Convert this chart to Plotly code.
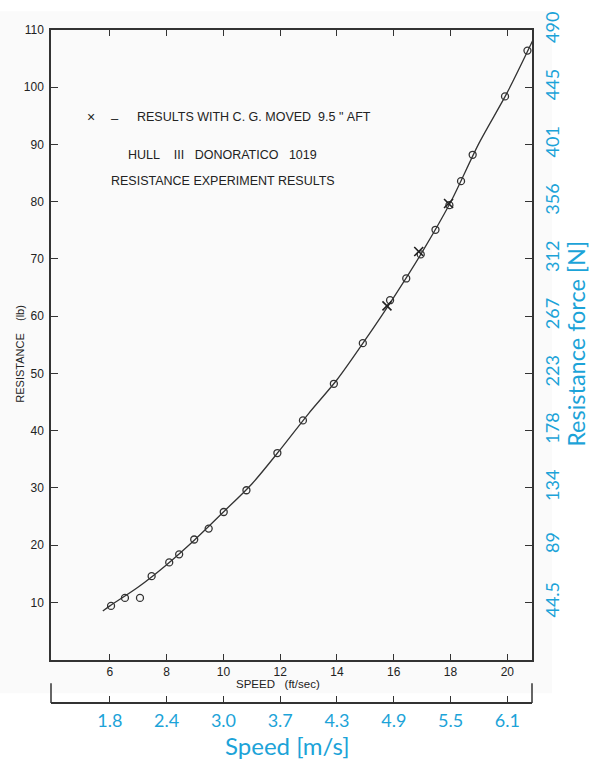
import plotly.graph_objects as go

# Towing-tank results: speed (ft/s) vs. resistance (lb)
speed_ft_s = [6.04, 6.53, 7.06, 7.47, 8.09, 8.44, 8.97, 9.48, 10.01, 10.81,
              11.9, 12.8, 13.89, 14.91, 15.87, 16.44, 16.95, 17.47, 17.96,
              18.37, 18.78, 19.92, 20.71]
resistance_lb = [9.4, 10.8, 10.8, 14.6, 17.0, 18.4, 21.0, 22.9, 25.8, 29.6,
                 36.1, 41.8, 48.2, 55.3, 62.8, 66.6, 70.8, 75.1, 79.4,
                 83.6, 88.2, 98.4, 106.4]

# Runs with the centre of gravity moved 9.5" aft
cg_speed_ft_s = [15.76, 16.88, 17.93]
cg_resistance_lb = [61.8, 71.3, 79.7]

# Faired resistance curve
fair_speed_ft_s = [5.75, 6, 7, 8, 9, 10, 11, 12, 13, 14, 15, 16, 17, 18, 19, 20, 20.9]
fair_resistance_lb = [8.5, 9.4, 12.7, 16.6, 21.0, 25.8, 30.7, 36.7, 43.0, 48.9,
                      55.9, 63.3, 71.2, 79.9, 90.2, 99.1, 108.2]

# Axis ticks: imperial values and their SI equivalents
speed_ticks = [6, 8, 10, 12, 14, 16, 18, 20]
speed_ms_labels = ["1.8", "2.4", "3.0", "3.7", "4.3", "4.9", "5.5", "6.1"]
res_ticks = [10, 20, 30, 40, 50, 60, 70, 80, 90, 100, 110]
res_n_labels = ["44.5", "89", "134", "178", "223", "267", "312", "356", "401", "445", "490"]

W, H = 589, 760
L, R, T, B = 51, 57, 19, 57
PW, PH = W - L - R, H - T - B

INK = "#333333"
TEXT = "#222222"
BLUE = "#1ca3d8"
SANS = "Liberation Sans, Arial, sans-serif"
SI_FONT = "Lato, sans-serif"


def px(x):
    return (x - L) / PW


def py(y):
    return (H - B - y) / PH


fig = go.Figure()

fig.add_trace(go.Scatter(
    x=fair_speed_ft_s, y=fair_resistance_lb, mode="lines",
    line=dict(color=INK, width=1.3, shape="spline", smoothing=0.8),
    hoverinfo="skip", showlegend=False))

fig.add_trace(go.Scatter(
    x=speed_ft_s, y=resistance_lb, mode="markers",
    marker=dict(symbol="circle-open", size=7, color=INK, line=dict(width=1.3)),
    showlegend=False))

fig.add_trace(go.Scatter(
    x=cg_speed_ft_s, y=cg_resistance_lb, mode="markers",
    marker=dict(symbol="x-thin-open", size=9, color=TEXT, line=dict(width=1.6)),
    showlegend=False))

# invisible traces to activate the SI axes
fig.add_trace(go.Scatter(x=[None], y=[None], xaxis="x2", yaxis="y", showlegend=False))
fig.add_trace(go.Scatter(x=[None], y=[None], xaxis="x", yaxis="y2", showlegend=False))

x_range = [3.925, 20.87]
y_range = [0, 110]
y_dom0 = py(659)

fig.update_layout(
    width=W, height=H,
    margin=dict(l=L, r=R, t=T, b=B, pad=0),
    paper_bgcolor="white",
    plot_bgcolor="rgba(0,0,0,0)",
    showlegend=False,
    xaxis=dict(
        range=x_range, domain=[0, 1], anchor="y",
        tickvals=speed_ticks, ticks="inside", ticklen=6, tickwidth=1.3,
        tickcolor=INK, showline=True, linecolor=INK, linewidth=1.5,
        mirror="ticks", showgrid=False, zeroline=False,
        tickfont=dict(family=SANS, size=12, color=TEXT),
    ),
    yaxis=dict(
        range=y_range, domain=[y_dom0, 1], anchor="x",
        tickvals=res_ticks, ticks="inside", ticklen=7, tickwidth=1.3,
        tickcolor=INK, showline=True, linecolor=INK, linewidth=1.5,
        mirror="ticks", showgrid=False, zeroline=False,
        tickfont=dict(family=SANS, size=12, color=TEXT),
        ticklabelstandoff=3,
    ),
    xaxis2=dict(
        range=x_range, overlaying="x", anchor="free", position=0, side="bottom",
        tickvals=speed_ticks, ticktext=speed_ms_labels,
        ticks="inside", ticklen=6, tickwidth=1.3, tickcolor=INK,
        showline=True, linecolor=INK, linewidth=1.5,
        showgrid=False, zeroline=False,
        tickfont=dict(family=SI_FONT, size=18, color=BLUE),
        ticklabelstandoff=2,
    ),
    yaxis2=dict(
        range=y_range, overlaying="y", anchor="x", side="right",
        tickvals=res_ticks, ticktext=res_n_labels, tickangle=-90,
        ticks="", showline=False, showgrid=False, zeroline=False,
        tickfont=dict(family=SI_FONT, size=18, color=BLUE),
        ticklabelstandoff=8,
    ),
)

# scanned page tint behind the original chart
fig.add_shape(type="rect", xref="paper", yref="paper",
              x0=px(0), x1=px(552), y0=py(693), y1=py(0),
              fillcolor="#fafafa", line=dict(width=0), layer="below")

# side brackets of the SI speed scale
for xb in (51, 532):
    fig.add_shape(type="line", xref="paper", yref="paper",
                  x0=px(xb), x1=px(xb), y0=py(683), y1=py(703),
                  line=dict(color=INK, width=1.5))


def note(text, x, y, size, color=TEXT, family=SANS, anchor="center", angle=0):
    fig.add_annotation(text=text, xref="paper", yref="paper", x=px(x), y=py(y),
                       xanchor=anchor, yanchor="middle", showarrow=False,
                       textangle=angle, font=dict(family=family, size=size, color=color))


NB = "\u00a0"
note("×", 91, 107, 14)
note("–", 115, 109, 13)
note(f"RESULTS WITH C. G. MOVED{NB*2}9.5{NB}\"{NB}AFT", 135, 107, 12.5, anchor="left")
note(f"HULL{NB*4}III{NB*3}DONORATICO{NB*3}1019", 126, 146, 12.5, anchor="left")
note("RESISTANCE EXPERIMENT RESULTS", 109, 172, 12.5, anchor="left")

note(f"RESISTANCE{NB*4}(lb)", 20, 348, 11, angle=-90)
note(f"SPEED{NB*3}(ft/sec)", 278, 684, 11.5)

note("Speed [m/s]", 287, 746, 24, color=BLUE, family=SI_FONT)
note("Resistance force [N]", 576, 338, 23.5, color=BLUE, family=SI_FONT, angle=-90)

fig.write_html("out.html")
